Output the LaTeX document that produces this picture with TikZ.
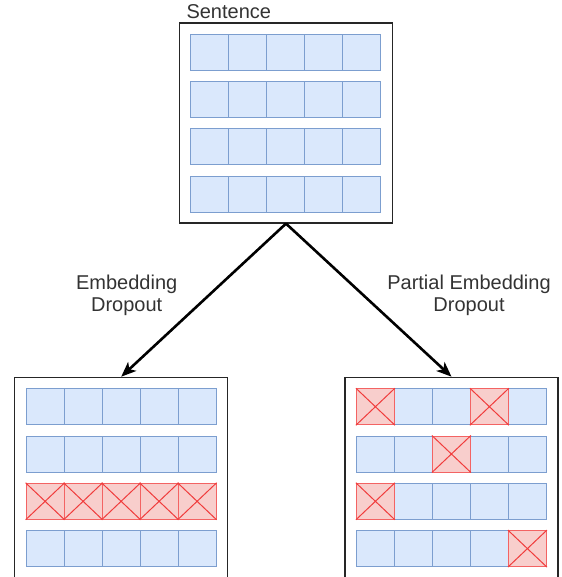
\documentclass[tikz,border=0pt]{standalone}
\usepackage{fontspec}
\setmainfont{Liberation Sans}
\usetikzlibrary{arrows.meta}
\definecolor{cellblue}{HTML}{DAE8FC}
\definecolor{cellline}{HTML}{7C9ECF}
\definecolor{dropfill}{HTML}{F8CECC}
\definecolor{dropline}{HTML}{F03C3C}

\begin{document}
\begin{tikzpicture}[x=1pt, y=-1pt,
	frame/.style={draw=black!85, line width=1.2pt, minimum width=213pt, minimum height=200pt, inner sep=0pt},
	cell/.style={draw=cellline, fill=cellblue, line width=1pt, minimum width=38pt, minimum height=36pt, inner sep=0pt, anchor=north west},
	dropcell/.style={cell, draw=dropline!80, fill=dropfill},
	txt/.style={font=\fontsize{20}{22}\selectfont, text=black!80, align=center},
	arr/.style={-{Stealth[length=15pt,width=12pt,inset=4pt]}, line width=2.6pt}]
	\useasboundingbox (0,0) rectangle (561,577);
	\node[frame] (sent) at (286,123) {};
	\node[frame] (full) at (121.2,477.3) {};
	\node[frame] (part) at (451.5,477.3) {};
	\node[txt, anchor=base west] (sentlbl) at (183,18.3) {Sentence};
	\foreach \r in {0,...,3}
		\foreach \c in {0,...,4} {
			\node[cell] (s-\r-\c) at ([shift={(11.5+38*\c,11.5+47.3*\r)}]sent.north west) {};
			\node[cell] (f-\r-\c) at ([shift={(11.5+38*\c,11.5+47.3*\r)}]full.north west) {};
			\node[cell] (p-\r-\c) at ([shift={(11.5+38*\c,11.5+47.3*\r)}]part.north west) {};
		}
	\foreach \b/\grid/\r/\c in {f/full/2/0,f/full/2/1,f/full/2/2,f/full/2/3,f/full/2/4,
			p/part/0/0,p/part/0/3,p/part/1/2,p/part/2/0,p/part/3/4} {
		\node[dropcell] (\b-\r-\c) at ([shift={(11.5+38*\c,11.5+47.3*\r)}]\grid.north west) {};
		\draw[dropline, line width=1pt] (\b-\r-\c.north west) -- (\b-\r-\c.south east)
			(\b-\r-\c.north east) -- (\b-\r-\c.south west);
	}
	\draw[arr] (sent.south) -- (full.north);
	\draw[arr] (sent.south) -- (part.north);
	\node[txt] (fulllbl) at (126.7,295) {Embedding\\Dropout};
	\node[txt] (partlbl) at (469,295) {Partial Embedding\\Dropout};
\end{tikzpicture}
\end{document}
